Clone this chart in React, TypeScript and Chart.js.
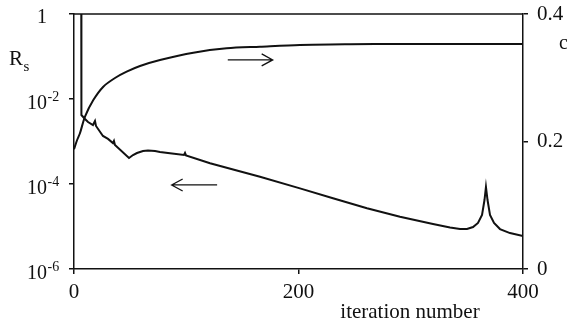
import { useEffect, useRef } from 'react';
import { Chart, registerables } from 'chart.js';

Chart.register(...registerables);

// Residual Rs (left, log scale) vs iteration
const rsIterations = [0, 6.4, 6.6, 9.8, 12.5, 16.9, 18.7, 19.6, 25.8, 30.3, 34.7, 35.6, 36.5, 49.0, 52.6, 56.1, 61.5, 65.9, 72.2, 76.6, 85.5, 98.0, 98.9, 99.8, 121.2, 143.4, 165.7, 201.3, 230.7, 261.0, 290.4, 319.8, 335.0, 343.9, 350.1, 355.5, 359.9, 363.5, 365.7, 367.0, 368.4, 370.6, 374.2, 379.5, 388.4, 400];
const rsValues = [50, 50, 4.2e-3, 3.38e-3, 2.87e-3, 2.44e-3, 3.04e-3, 2.32e-3, 1.35e-3, 1.15e-3, 9.2e-4, 1.03e-3, 8.3e-4, 4.09e-4, 4.81e-4, 5.36e-4, 5.97e-4, 6.14e-4, 5.97e-4, 5.66e-4, 5.27e-4, 4.81e-4, 5.36e-4, 4.69e-4, 3.07e-4, 2.13e-4, 1.48e-4, 7.9e-5, 4.61e-5, 2.68e-5, 1.7e-5, 1.15e-5, 9.5e-6, 8.7e-6, 8.7e-6, 9.7e-6, 1.21e-5, 1.87e-5, 4.2e-5, 8.5e-5, 4.2e-5, 1.87e-5, 1.21e-5, 8.7e-6, 7.0e-6, 6.0e-6];

// c (right, linear scale) vs iteration
const cIterations = [0, 2.7, 5.3, 9.8, 17.2, 26.1, 36.5, 46.9, 58.8, 76.6, 106.3, 136.0, 165.7, 201.3, 245.9, 290.4, 400];
const cValues = [0.188, 0.202, 0.213, 0.239, 0.265, 0.286, 0.2996, 0.3095, 0.3184, 0.3278, 0.3393, 0.3462, 0.3487, 0.3514, 0.3525, 0.3529, 0.3529];

const xTickValues = [0, 200, 400];
const leftTickExponents = [0, -2, -4, -6];
const rightTickValues = [0, 0.2, 0.4];

const xTitle = 'iteration number';
const leftTitleMain = 'R';
const leftTitleSub = 's';
const rightTitle = 'c';

// arrows: [fromIter, toIter, value] ; right arrow points to c axis, left arrow to Rs axis
const cArrow = [137, 177, 0.328];
const rsArrow = [127.5, 87, 9.5e-5];

const FONT = "'Liberation Serif', 'Times New Roman', serif";

export default function App() {
  const ref = useRef<HTMLCanvasElement | null>(null);

  useEffect(() => {
    document.body.style.margin = '0';
    const canvas = ref.current;
    if (!canvas) return;

    const drawArrow = (ctx: CanvasRenderingContext2D, x1: number, x2: number, y: number) => {
      const dir = x2 > x1 ? 1 : -1;
      ctx.beginPath();
      ctx.moveTo(x1, y);
      ctx.lineTo(x2, y);
      ctx.moveTo(x2 - dir * 11, y - 6);
      ctx.lineTo(x2, y);
      ctx.lineTo(x2 - dir * 11, y + 6);
      ctx.stroke();
    };

    const noPad = (s: any) => {
      s.paddingTop = 0;
      s.paddingBottom = 0;
      s.paddingLeft = 0;
      s.paddingRight = 0;
    };

    const decor = {
      id: 'decor',
      afterDraw(chart: any) {
        const ctx: CanvasRenderingContext2D = chart.ctx;
        const { left, right, top } = chart.chartArea;
        const xs = chart.scales.x;
        const yl = chart.scales.y;
        const yr = chart.scales.y1;
        ctx.save();
        ctx.strokeStyle = '#111';
        ctx.lineWidth = 1.5;
        ctx.beginPath();
        ctx.moveTo(left, top);
        ctx.lineTo(right, top);
        ctx.stroke();

        ctx.fillStyle = '#111';
        // left tick labels
        for (const e of leftTickExponents) {
          const y = yl.getPixelForValue(Math.pow(10, e));
          ctx.textAlign = 'right';
          ctx.textBaseline = 'alphabetic';
          ctx.font = `20px ${FONT}`;
          if (e === 0) {
            ctx.fillText('1', 47, y + 9);
          } else {
            ctx.fillText('10', 47, y + 10);
            ctx.textAlign = 'left';
            ctx.font = `14px ${FONT}`;
            ctx.fillText(String(e), 47.5, y + 2);
          }
        }
        // axis titles
        ctx.textAlign = 'left';
        ctx.font = `21px ${FONT}`;
        ctx.fillText(leftTitleMain, 9, 65);
        ctx.font = `15px ${FONT}`;
        ctx.fillText(leftTitleSub, 23.5, 71);
        ctx.font = `20px ${FONT}`;
        ctx.fillText(rightTitle, 559, 49);
        ctx.textAlign = 'center';
        ctx.font = `21px ${FONT}`;
        ctx.fillText(xTitle, 410, 318);

        // arrows
        ctx.lineWidth = 1.3;
        drawArrow(ctx, xs.getPixelForValue(cArrow[0]), xs.getPixelForValue(cArrow[1]), yr.getPixelForValue(cArrow[2]));
        drawArrow(ctx, xs.getPixelForValue(rsArrow[0]), xs.getPixelForValue(rsArrow[1]), yl.getPixelForValue(rsArrow[2]));
        ctx.restore();
      },
    };

    const chart = new Chart(canvas, {
      type: 'line',
      data: {
        datasets: [
          {
            label: 'Rs',
            data: rsIterations.map((x, i) => ({ x, y: rsValues[i] })),
            yAxisID: 'y',
            borderColor: '#111',
            borderWidth: 2,
            pointRadius: 0,
            tension: 0,
          },
          {
            label: 'c',
            data: cIterations.map((x, i) => ({ x, y: cValues[i] })),
            yAxisID: 'y1',
            borderColor: '#111',
            borderWidth: 2,
            pointRadius: 0,
            tension: 0.3,
          },
        ],
      },
      options: {
        responsive: false,
        animation: false,
        layout: { padding: { top: 14, left: 0, right: 0, bottom: 0 } },
        plugins: { legend: { display: false }, tooltip: { enabled: false } },
        scales: {
          x: {
            type: 'linear',
            min: 0,
            max: 400,
            afterBuildTicks: (s: any) => { s.ticks = xTickValues.map((v) => ({ value: v })); },
            afterFit: (s: any) => { s.height = 57; noPad(s); },
            ticks: { color: '#111', font: { family: FONT, size: 21 }, padding: 6, maxRotation: 0 },
            grid: { drawOnChartArea: false, drawTicks: true, tickLength: 5, color: '#111', lineWidth: 1.5 },
            border: { display: true, color: '#111', width: 1.5 },
          },
          y: {
            type: 'logarithmic',
            position: 'left',
            min: 1e-6,
            max: 1,
            afterBuildTicks: (s: any) => { s.ticks = leftTickExponents.map((e) => ({ value: Math.pow(10, e) })); },
            afterFit: (s: any) => { s.width = 74; noPad(s); },
            ticks: { display: false },
            grid: { drawOnChartArea: false, drawTicks: true, tickLength: 5, color: '#111', lineWidth: 1.5 },
            border: { display: true, color: '#111', width: 1.5 },
          },
          y1: {
            type: 'linear',
            position: 'right',
            min: 0,
            max: 0.4,
            afterBuildTicks: (s: any) => { s.ticks = rightTickValues.map((v) => ({ value: v })); },
            afterFit: (s: any) => { s.width = 44; noPad(s); },
            ticks: { color: '#111', font: { family: FONT, size: 21 }, padding: 9, callback: (v: any) => String(Number(v)) },
            grid: { drawOnChartArea: false, drawTicks: true, tickLength: 5, color: '#111', lineWidth: 1.5 },
            border: { display: true, color: '#111', width: 1.5 },
          },
        },
      },
      plugins: [decor],
    });
    return () => chart.destroy();
  }, []);

  return (
    <div style={{ width: 567, height: 326 }}>
      <canvas ref={ref} width={567} height={326} />
    </div>
  );
}
